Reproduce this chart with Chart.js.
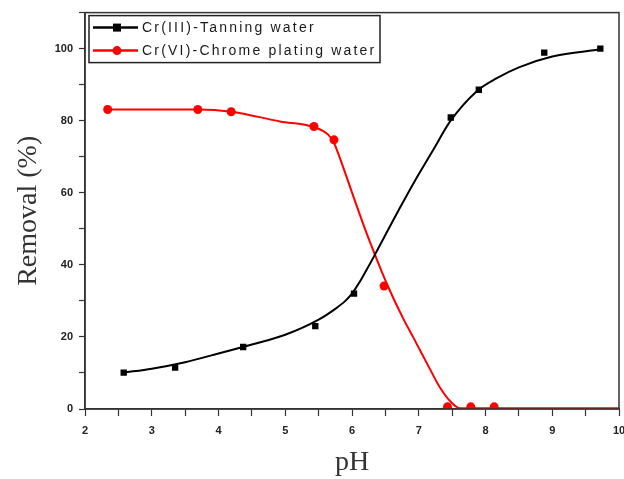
<!DOCTYPE html>
<html>
<head>
<meta charset="utf-8">
<script src="https://cdn.jsdelivr.net/npm/chart.js@4/dist/chart.umd.min.js"></script>
<style>
  html, body { margin: 0; padding: 0; background: #fff; }
  #wrap { width: 624px; height: 479px; }
</style>
</head>
<body>
<div id="wrap"><canvas id="chart"></canvas></div>
<script>
// measured points
const cr3PH = [2.58, 3.35, 4.37, 5.45, 6.03, 7.48, 7.90, 8.88, 9.72];
const cr3Removal = [10.1, 11.5, 17.2, 23.0, 32.0, 80.9, 88.6, 98.9, 100.0];
const cr6PH = [2.34, 3.69, 4.19, 5.43, 5.73, 6.48, 7.43, 7.78, 8.13];
const cr6Removal = [83.1, 83.1, 82.5, 78.4, 74.7, 34.1, 0.6, 0.6, 0.6];

// fitted curves
const cr3FitPH = [2.58, 3.0, 3.5, 4.0, 4.5, 5.0, 5.5, 5.75, 5.9, 6.0, 6.1, 6.2, 6.34, 6.5, 6.72, 6.92, 7.22, 7.47, 7.87, 8.17, 8.5, 9.0, 9.72];
const cr3FitRemoval = [10.1, 11.2, 13.0, 15.4, 17.9, 20.6, 24.8, 27.8, 30.0, 32.0, 34.8, 38.0, 42.7, 48.3, 55.9, 62.6, 72.0, 79.8, 88.2, 91.8, 94.8, 97.8, 99.8];
const cr6FitPH = [2.34, 3.0, 3.69, 4.19, 4.92, 5.43, 5.65, 5.73, 5.8, 5.87, 6.02, 6.19, 6.34, 6.54, 6.77, 6.92, 7.17, 7.32, 7.49, 7.62, 8.0, 10.0];
const cr6FitRemoval = [83.1, 83.1, 83.1, 82.5, 79.8, 78.2, 76.0, 73.8, 70.6, 67.0, 59.0, 50.2, 43.0, 34.0, 25.0, 19.8, 11.0, 5.9, 1.8, 0.2, 0.2, 0.2];

const xTicks = [2, 3, 4, 5, 6, 7, 8, 9, 10];
const yTicks = [0, 20, 40, 60, 80, 100];
const seriesNames = ['Cr(III)-Tanning water', 'Cr(VI)-Chrome plating water'];
const seriesColors = ['#000000', '#ff0000'];
const seriesMarkers = ['rect', 'circle'];

function toXY(xs, ys) {
  return xs.map((x, i) => ({ x: x, y: ys[i] }));
}

const frame = {
  id: 'frame',
  afterDatasetsDraw(chart) {
    const a = chart.chartArea;
    const ctx = chart.ctx;
    ctx.save();
    ctx.strokeStyle = '#333';
    ctx.lineWidth = 1.5;
    ctx.strokeRect(a.left, a.top, a.right - a.left, a.bottom - a.top);
    ctx.restore();
  }
};

// legend box inside the plot, top left
const boxLegend = {
  id: 'boxLegend',
  afterDraw(chart) {
    const a = chart.chartArea;
    const ctx = chart.ctx;
    const x0 = a.left + 4, y0 = a.top + 3, w = 291, h = 47;
    ctx.save();
    ctx.fillStyle = '#fff';
    ctx.fillRect(x0, y0, w, h);
    ctx.strokeStyle = '#222';
    ctx.lineWidth = 1.5;
    ctx.strokeRect(x0, y0, w, h);
    ctx.font = '14px "Liberation Sans", Arial, sans-serif';
    ctx.letterSpacing = '2.2px';
    ctx.textBaseline = 'middle';
    seriesNames.forEach((name, i) => {
      const cy = y0 + 12 + i * 23;
      ctx.strokeStyle = seriesColors[i];
      ctx.lineWidth = 2.5;
      ctx.beginPath();
      ctx.moveTo(x0 + 4, cy);
      ctx.lineTo(x0 + 49, cy);
      ctx.stroke();
      ctx.fillStyle = seriesColors[i];
      if (seriesMarkers[i] === 'rect') {
        ctx.fillRect(x0 + 24, cy - 4, 8, 8);
      } else {
        ctx.beginPath();
        ctx.arc(x0 + 28, cy, 4.5, 0, Math.PI * 2);
        ctx.fill();
      }
      ctx.fillStyle = '#1a1a1a';
      ctx.fillText(name, x0 + 53, cy + 1);
    });
    ctx.restore();
  }
};

const ctx = document.getElementById('chart').getContext('2d');
const chart = new Chart(ctx, {
  type: 'scatter',
  data: {
    datasets: [
      {
        label: seriesNames[0] + ' fit',
        data: toXY(cr3FitPH, cr3FitRemoval),
        showLine: true,
        borderColor: seriesColors[0],
        borderWidth: 2,
        pointRadius: 0,
        cubicInterpolationMode: 'monotone',
        fill: false
      },
      {
        label: seriesNames[1] + ' fit',
        data: toXY(cr6FitPH, cr6FitRemoval),
        showLine: true,
        borderColor: seriesColors[1],
        borderWidth: 2,
        pointRadius: 0,
        cubicInterpolationMode: 'monotone',
        fill: false
      },
      {
        label: seriesNames[0],
        data: toXY(cr3PH, cr3Removal),
        pointStyle: 'rect',
        pointRadius: 4.5,
        backgroundColor: seriesColors[0],
        borderColor: seriesColors[0],
        borderWidth: 0
      },
      {
        label: seriesNames[1],
        data: toXY(cr6PH, cr6Removal),
        pointStyle: 'circle',
        pointRadius: 4.5,
        backgroundColor: seriesColors[1],
        borderColor: seriesColors[1],
        borderWidth: 0
      }
    ]
  },
  options: {
    responsive: true,
    maintainAspectRatio: false,
    animation: false,
    devicePixelRatio: 1,
    layout: { padding: { top: 12, right: 5, left: 0, bottom: 0 } },
    plugins: {
      legend: { display: false },
      tooltip: { enabled: false }
    },
    scales: {
      x: {
        type: 'linear',
        min: 2,
        max: 10,
        afterFit: s => { s.height = 70; s.paddingLeft = 0; s.paddingRight = 0; },
        ticks: {
          stepSize: 0.5,
          autoSkip: false,
          maxRotation: 0,
          padding: 8,
          color: '#222',
          font: { family: '"Liberation Sans", Arial, sans-serif', size: 11, weight: 'bold' },
          callback: v => (xTicks.includes(v) ? String(v) : '')
        },
        grid: { drawOnChartArea: false, tickLength: 7, tickColor: '#333', tickWidth: 1.2 },
        border: { color: '#333', width: 1.5 },
        title: {
          display: true,
          text: 'pH',
          color: '#333',
          font: { family: '"Liberation Serif", "Times New Roman", serif', size: 28 },
          padding: { top: 0, bottom: 0 }
        }
      },
      y: {
        min: 0,
        max: 110,
        afterFit: s => { s.width = 85; },
        ticks: {
          stepSize: 10,
          autoSkip: false,
          padding: 6,
          color: '#222',
          font: { family: '"Liberation Sans", Arial, sans-serif', size: 11, weight: 'bold' },
          callback: v => (yTicks.includes(v) ? String(v) : '')
        },
        grid: { drawOnChartArea: false, tickLength: 6, tickColor: '#333', tickWidth: 1.2 },
        border: { color: '#333', width: 1.5 },
        title: {
          display: true,
          text: 'Removal (%)',
          color: '#333',
          font: { family: '"Liberation Serif", "Times New Roman", serif', size: 28 },
          padding: { top: 12, bottom: 0 }
        }
      }
    }
  },
  plugins: [frame, boxLegend]
});
</script>
</body>
</html>
